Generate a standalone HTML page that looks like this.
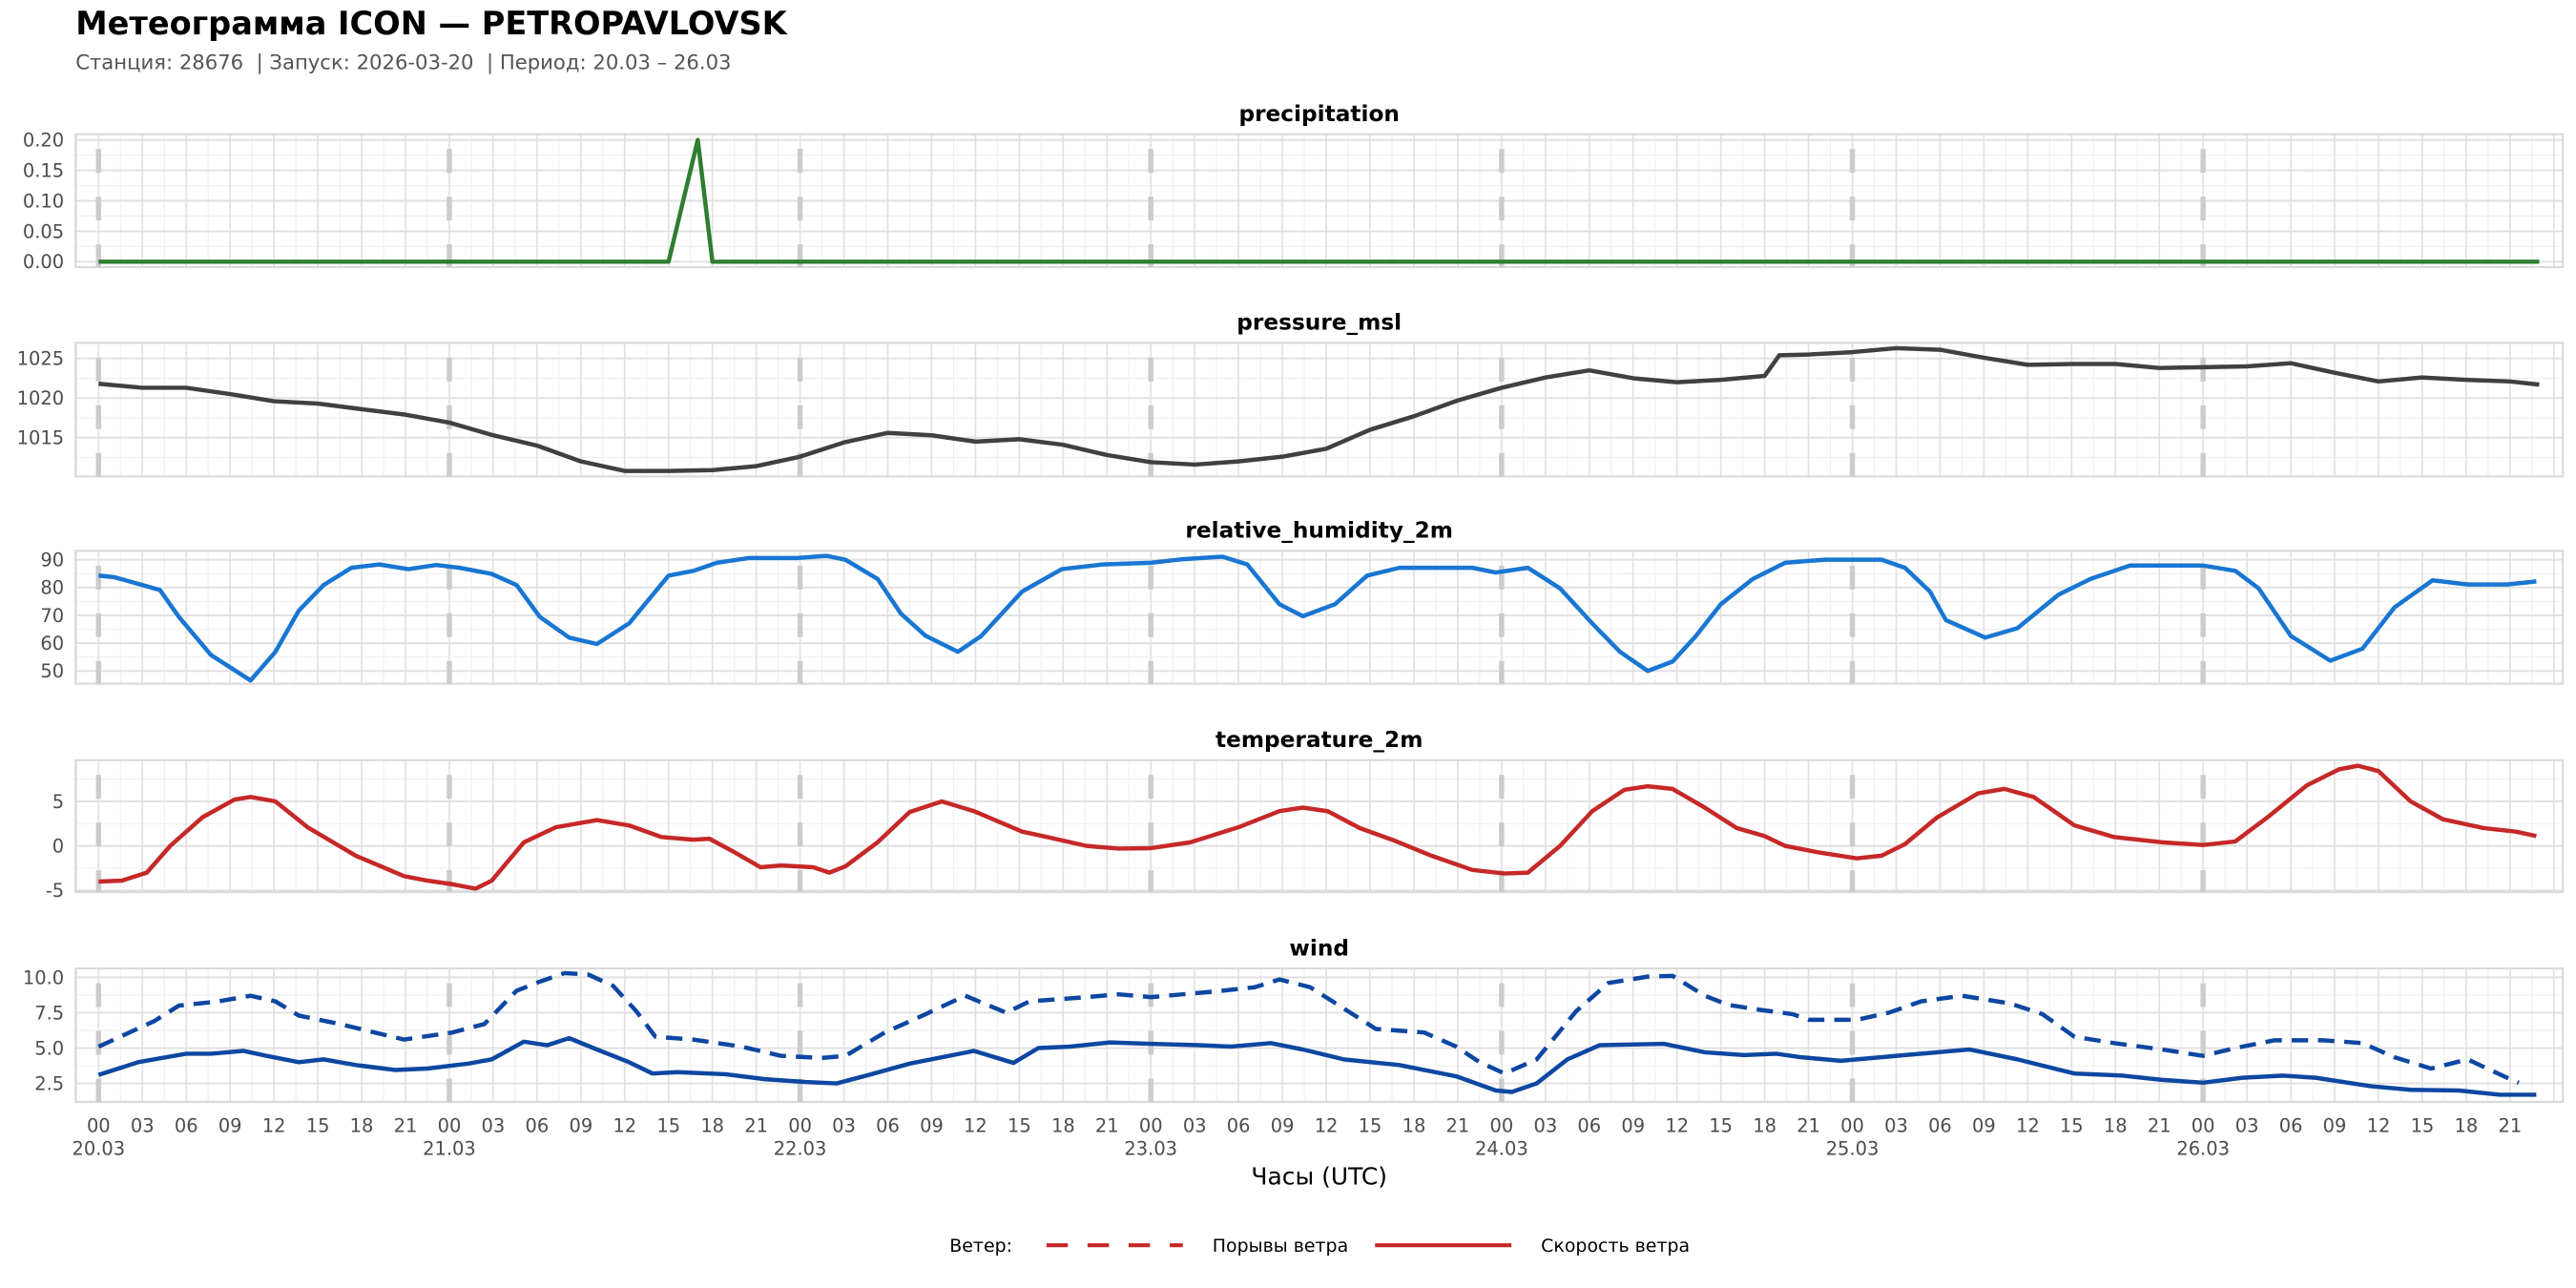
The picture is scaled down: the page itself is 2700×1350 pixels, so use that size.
<!DOCTYPE html>
<html><head><meta charset="utf-8"><title>Meteogram</title>
<style>
html,body{margin:0;padding:0;background:#fff;}
svg{display:block;}
text{font-family:"DejaVu Sans","Liberation Sans",sans-serif;}
</style></head>
<body>
<svg id="chart" width="2700" height="1350" viewBox="0 0 1568 784" xmlns="http://www.w3.org/2000/svg">
<text x="46" y="21" font-size="19.5" font-weight="bold" fill="#000">Метеограмма ICON — PETROPAVLOVSK</text>
<text x="46" y="42" font-size="12.3" fill="#555" style="white-space:pre" xml:space="preserve">Станция: 28676  | Запуск: 2026-03-20  | Период: 20.03 – 26.03</text>
<g id="panels"></g>
<text x="803" y="721" font-size="14.5" text-anchor="middle" fill="#000">Часы (UTC)</text>
<g>
<text x="578" y="762" font-size="11" fill="#000">Ветер:</text>
<line x1="637" y1="758" x2="720" y2="758" stroke="#c62828" stroke-width="2.4" stroke-dasharray="13 12"/>
<text x="738" y="762" font-size="11" fill="#000">Порывы ветра</text>
<line x1="837" y1="758" x2="920" y2="758" stroke="#c62828" stroke-width="2.4"/>
<text x="938" y="762" font-size="11" fill="#000">Скорость ветра</text>
</g>
</svg>
<script>
// ---- data ----
const dayLabels = ["20.03","21.03","22.03","23.03","24.03","25.03","26.03"];
const hourTickLabels = ["00","03","06","09","12","15","18","21"];

const precipHours = [0,39,41,42,167];
const precipValues = [0,0,0.2,0,0];

const pressureHours = [0,3,6,9,12,15,18,21,24,27,30,33,36,39,42,45,48,51,54,57,60,63,66,69,72,75,78,81,84,87,90,93,96,99,102,105,108,111,114,115,117,120,123,126,129,132,135,138,141,144,147,150,153,156,159,162,165,167];
const pressureValues = [1021.8,1021.3,1021.3,1020.5,1019.6,1019.3,1018.6,1017.9,1016.9,1015.3,1014.0,1012.0,1010.8,1010.8,1010.9,1011.4,1012.6,1014.4,1015.6,1015.3,1014.5,1014.8,1014.1,1012.8,1011.9,1011.6,1012.0,1012.6,1013.6,1016.0,1017.7,1019.7,1021.3,1022.6,1023.5,1022.5,1022.0,1022.3,1022.8,1025.4,1025.5,1025.8,1026.3,1026.1,1025.1,1024.2,1024.3,1024.3,1023.8,1023.9,1024.0,1024.4,1023.2,1022.1,1022.6,1022.3,1022.1,1021.7];

const rhHours = [0,1.1,4.2,5.5,7.7,10.4,12.1,13.7,15.4,17.3,19.2,21.2,23.1,24.7,26.9,28.6,30.2,32.2,34.1,36.3,39,40.7,42.3,44.5,47.8,49.8,51.1,53.3,54.9,56.6,58.8,60.4,63.2,65.9,68.7,72,74.2,76.9,78.6,80.8,82.4,84.6,86.8,89,94,95.6,97.8,100,102.2,104.1,106,107.7,109.3,111,113.2,115.4,118.1,122,123.6,125.3,126.4,129.1,131.3,134.1,136.3,139,144,146.2,147.8,150,152.7,154.9,157.1,159.7,162.1,164.8,166.8];
const rhValues = [84.3,83.7,79.1,69.4,55.7,46.6,56.9,71.7,80.9,87.1,88.3,86.6,88.1,87.1,84.9,80.9,69.4,62,59.7,67.1,84.3,86,88.9,90.6,90.6,91.4,90,83.1,70.6,62.6,56.9,62.6,78.6,86.6,88.3,88.9,90.2,91.1,88.3,74,69.7,74,84.3,87.1,87.1,85.4,87.1,79.7,67.1,56.9,50,53.4,62.6,74,83.1,88.9,90,90,87.1,78.6,68.3,62,65.4,77.4,83.1,87.9,87.9,86,79.7,62.6,53.7,58,72.9,82.6,81.1,81.1,82.2];

const tempHours = [0,1.6,3.3,4.9,7.1,9.3,10.4,12.1,14.3,17.6,20.9,22.5,24.2,25.8,26.9,29.1,31.3,34.1,36.3,38.5,40.7,41.8,43.5,45.3,46.7,48.9,50,51.1,53.3,55.5,57.7,59.9,63.2,64.9,67.6,69.8,72,74.7,78,80.8,82.4,84.1,86.3,88.5,91.2,94,96.2,97.8,100,102.2,104.4,106,107.7,109.9,112.1,114,115.4,117.6,120.3,122,123.6,125.8,128.6,130.4,132.4,135.2,137.9,141.2,144,146.2,148.4,151.1,153.3,154.6,156,158.2,160.4,163.2,165.4,166.8];
const tempValues = [-4.0,-3.9,-3.0,0,3.2,5.2,5.5,5.0,2.1,-1.1,-3.4,-3.9,-4.3,-4.8,-3.9,0.4,2.1,2.9,2.3,1.0,0.7,0.8,-0.7,-2.4,-2.2,-2.4,-3.0,-2.3,0.4,3.8,5.0,3.9,1.6,1.0,0,-0.3,-0.25,0.4,2.1,3.9,4.3,3.9,2.0,0.7,-1.1,-2.7,-3.1,-3.0,0,3.9,6.3,6.7,6.4,4.3,2.0,1.1,0,-0.7,-1.4,-1.1,0.2,3.2,5.9,6.4,5.5,2.3,1.0,0.4,0.1,0.5,3.2,6.8,8.6,9.0,8.4,5.0,3.0,2.0,1.6,1.1];

const windHours = [0,2.7,6.0,7.7,9.9,11.5,13.7,15.4,17.6,20.3,22.5,25.3,26.9,29.1,30.7,32.2,34.1,36.3,37.9,39.6,42.9,45.6,48.4,50.5,52.7,55.5,59.9,62.6,64.3,66.5,69.2,72,75.3,77.5,80.2,82.4,85.2,89,92.9,95.6,96.7,98.4,100.5,102.7,107.1,109.9,112.6,114.8,116.5,119.2,123.6,128,131.3,135.2,138.5,141.2,144,146.7,149.5,151.7,155.5,158.2,161.5,164.3,166.8];
const windValues = [3.1,4.0,4.6,4.6,4.8,4.45,4.0,4.2,3.8,3.45,3.55,3.9,4.2,5.45,5.2,5.7,4.9,4.0,3.2,3.3,3.15,2.8,2.6,2.5,3.1,3.9,4.8,3.95,5.0,5.1,5.4,5.3,5.2,5.1,5.35,4.9,4.2,3.8,3.0,2.0,1.9,2.5,4.2,5.2,5.3,4.7,4.5,4.6,4.35,4.1,4.5,4.9,4.2,3.2,3.05,2.75,2.55,2.9,3.05,2.9,2.3,2.05,2.0,1.7,1.7];

const gustHours = [0,3.8,5.5,8.2,10.4,12.1,13.7,16.5,20.9,24.2,26.4,28.6,30.2,31.9,33.5,35.2,36.8,38.1,40.7,44,46.7,49.5,51.1,53.8,56.6,59.3,62.1,63.7,67.6,69.8,72,76.4,79.1,80.8,82.9,85.2,87.4,90.7,92.9,94.5,96.2,98.4,101.1,103.3,106,107.7,109.9,111.5,113.7,115.9,117,120.3,122.5,124.7,127.5,130.8,133,135.2,137.9,141.2,144,146.2,148.9,152.2,154.9,157.1,159.6,162.1,164.8,165.6];
const gustValues = [5.1,6.9,8.0,8.3,8.7,8.3,7.3,6.7,5.6,6.1,6.7,9.05,9.7,10.3,10.2,9.4,7.6,5.8,5.6,5.1,4.45,4.3,4.45,6.1,7.4,8.7,7.5,8.3,8.6,8.8,8.6,9.0,9.3,9.85,9.3,7.8,6.35,6.1,5.1,4.0,3.2,4.2,7.6,9.6,10.05,10.1,8.7,8.05,7.7,7.4,7.0,7.0,7.5,8.3,8.7,8.15,7.4,5.8,5.35,4.9,4.45,5.0,5.55,5.55,5.35,4.35,3.55,4.2,2.9,2.55];

const precipTicks = [0,0.05,0.1,0.15,0.2];
const pressureTicks = [1015,1020,1025];
const rhTicks = [50,60,70,80,90];
const tempTicks = [-5,0,5];
const windTicks = [2.5,5.0,7.5,10.0];

// ---- layout ----
const NS = "http://www.w3.org/2000/svg";
const PL = 46, PR = 1560;
const X0 = 60, HPX = 8.896;
function xScale(h){ return X0 + h*HPX; }

function mk(tag, attrs, parent){
  const e = document.createElementNS(NS, tag);
  for (const k in attrs) e.setAttribute(k, attrs[k]);
  parent.appendChild(e);
  return e;
}

const root = document.getElementById('panels');

const panels = [
  {name:"precipitation", top:81.7, bottom:162.6, v0:0, y0:159.3, pxPerUnit:370.5, ticks:precipTicks, fmt:v=>v.toFixed(2), minorStep:0.025,
   series:[{h:precipHours, v:precipValues, color:"#2e7d32", dash:null, nm:"precipitation-line"}]},
  {name:"pressure_msl", top:208.7, bottom:290, v0:1025, y0:218.2, pxPerUnit:4.82, ticks:pressureTicks, fmt:v=>String(v), minorStep:2.5,
   series:[{h:pressureHours, v:pressureValues, color:"#404040", dash:null, nm:"pressure-line"}]},
  {name:"relative_humidity_2m", top:335.3, bottom:416.2, v0:90, y0:340.7, pxPerUnit:1.693, ticks:rhTicks, fmt:v=>String(v), minorStep:5,
   series:[{h:rhHours, v:rhValues, color:"#1976d2", dash:null, nm:"humidity-line"}]},
  {name:"temperature_2m", top:462.7, bottom:543, v0:5, y0:487.8, pxPerUnit:5.42, ticks:tempTicks, fmt:v=>String(v), minorStep:2.5,
   series:[{h:tempHours, v:tempValues, color:"#c62828", dash:null, nm:"temperature-line"}]},
  {name:"wind", top:589.5, bottom:670.8, v0:10, y0:594.9, pxPerUnit:8.61, ticks:windTicks, fmt:v=>v.toFixed(1), minorStep:1.25,
   series:[{h:gustHours, v:gustValues, color:"#0d47a1", dash:"10 6", nm:"wind-gust-line"},
           {h:windHours, v:windValues, color:"#0d47a1", dash:null, nm:"wind-speed-line"}]}
];

panels.forEach((p, pi) => {
  const yS = v => p.y0 + (p.v0 - v)*p.pxPerUnit;
  const vTop = p.v0 + (p.y0 - p.top)/p.pxPerUnit;
  const vBot = p.v0 - (p.bottom - p.y0)/p.pxPerUnit;
  const g = mk('g', {}, root);
  
  

  const t = mk('text', {x:(PL+PR)/2, y:p.top-8, 'font-size':13.5, 'font-weight':'bold', 'text-anchor':'middle', fill:'#000'}, g);
  t.textContent = p.name;
  
  

  const clipId = 'clip' + pi;
  const cp = mk('clipPath', {id:clipId}, g);
  mk('rect', {x:PL, y:p.top, width:PR-PL, height:p.bottom-p.top}, cp);

  const grid = mk('g', {'clip-path':'url(#'+clipId+')'}, g);
  
  
  const start = Math.ceil(vBot/p.minorStep)*p.minorStep;
  for (let v = start; v <= vTop + 1e-9; v += p.minorStep) {
    mk('line', {x1:PL, x2:PR, y1:yS(v), y2:yS(v), stroke:'#f0f0f0', 'stroke-width':0.7}, grid);
  }
  for (let h = -1.5; h <= 169; h += 1.5) {
    const major = Math.abs(h/3 - Math.round(h/3)) < 1e-6;
    mk('line', {x1:xScale(h), x2:xScale(h), y1:p.top, y2:p.bottom, stroke: major ? '#e2e2e2' : '#f0f0f0', 'stroke-width': major ? 1 : 0.7}, grid);
  }
  p.ticks.forEach(v => {
    mk('line', {x1:PL, x2:PR, y1:yS(v), y2:yS(v), stroke:'#e0e0e0', 'stroke-width':1.1}, grid);
  });

  const b = mk('rect', {x:PL, y:p.top, width:PR-PL, height:p.bottom-p.top, fill:'none', stroke:'#d9d9d9', 'stroke-width':1.2}, g);
  
  

  for (let d = 0; d < dayLabels.length; d++) {
    const x = xScale(d*24);
    const dl = mk('line', {x1:x, x2:x, y1:p.top, y2:p.bottom, stroke:'#cccccc', 'stroke-width':3.2, 'stroke-dasharray':'14.5 14.5', 'stroke-dashoffset':20}, g);
    
    
  }

  p.ticks.forEach(v => {
    const tl = mk('text', {x:39, y:yS(v)+4, 'font-size':11.3, 'text-anchor':'end', fill:'#4d4d4d'}, g);
    tl.textContent = p.fmt(v);
    
    
  });

  const sg = mk('g', {'clip-path':'url(#'+clipId+')'}, g);
  p.series.forEach(s => {
    let d = '';
    s.h.forEach((h, i) => { d += (i ? 'L' : 'M') + xScale(h).toFixed(2) + ',' + yS(s.v[i]).toFixed(2); });
    const attrs = {d:d, fill:'none', stroke:s.color, 'stroke-width':2.6, 'stroke-linejoin':'round'};
    if (s.dash) attrs['stroke-dasharray'] = s.dash;
    const path = mk('path', attrs, sg);
    
    
  });
});

const xg = mk('g', {}, root);


for (let h = 0; h <= 165; h += 3) {
  const tl = mk('text', {x:xScale(h), y:689, 'font-size':11.3, 'text-anchor':'middle', fill:'#4d4d4d'}, xg);
  tl.textContent = hourTickLabels[(h/3) % 8];
  
  
}
dayLabels.forEach((lab, d) => {
  const tl = mk('text', {x:xScale(d*24), y:703, 'font-size':11.3, 'text-anchor':'middle', fill:'#4d4d4d'}, xg);
  tl.textContent = lab;
  
  
});
</script>
</body></html>
